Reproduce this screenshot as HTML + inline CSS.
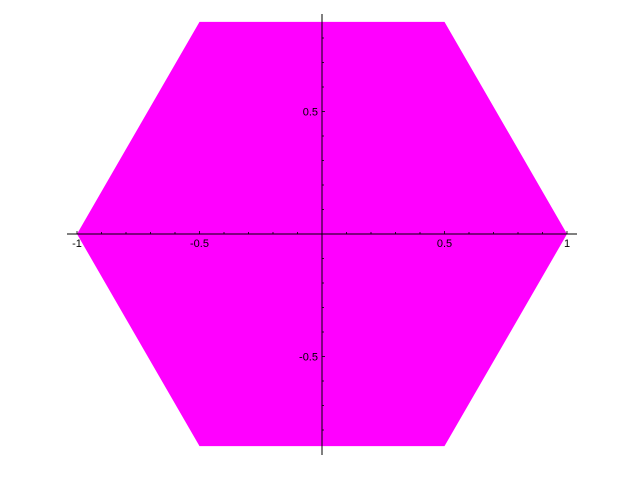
<!DOCTYPE html>
<html><head><meta charset="utf-8"><style>body{margin:0;background:#fff}svg{display:block}text{font-family:"Liberation Sans",sans-serif;font-size:11px;fill:#000}</style></head>
<body>
<svg id="chart" width="640" height="480" viewBox="0 0 640 480" xmlns="http://www.w3.org/2000/svg"></svg>
<script>
const vertexAngles=[0,60,120,180,240,300];
const radius=[1,1,1,1,1,1];
const xTicks=[-1,-0.5,0.5,1];
const xTickLabels=["-1","-0.5","0.5","1"];
const yTicks=[-0.5,0.5];
const yTickLabels=["-0.5","0.5"];
const NS="http://www.w3.org/2000/svg";
const svg=document.getElementById('chart');
const sx=v=>322+v*245, sy=v=>234-v*245;
function mk(t,a){const e=document.createElementNS(NS,t);for(const k in a)e.setAttribute(k,a[k]);svg.appendChild(e);return e;}
const pts=vertexAngles.map((a,i)=>sx(radius[i]*Math.cos(a*Math.PI/180))+","+sy(radius[i]*Math.sin(a*Math.PI/180))).join(" ");
const poly=mk('polygon',{points:pts,fill:'#ff00ff'});


const xa=mk('line',{x1:67,x2:577,y1:234,y2:234,stroke:'#000','stroke-width':1});


const ya=mk('line',{x1:322,x2:322,y1:14,y2:455,stroke:'#000','stroke-width':1});


for(let i=-10;i<=10;i++){const v=i/10;const big=i%5===0;
 mk('line',{x1:sx(v),x2:sx(v),y1:234,y2:234-(big?3:2),stroke:'#000','stroke-width':0.8});}
for(let i=-8;i<=8;i++){const v=i/10;const big=i%5===0;
 mk('line',{x1:322,x2:322+(big?3:2),y1:sy(v),y2:sy(v),stroke:'#000','stroke-width':0.8});}
xTicks.forEach((v,i)=>{const t=mk('text',{x:sx(v),y:247,'text-anchor':'middle'});t.textContent=xTickLabels[i];
 
 });
yTicks.forEach((v,i)=>{const t=mk('text',{x:318,y:sy(v)+4,'text-anchor':'end'});t.textContent=yTickLabels[i];
 
 });
</script>
</body></html>
